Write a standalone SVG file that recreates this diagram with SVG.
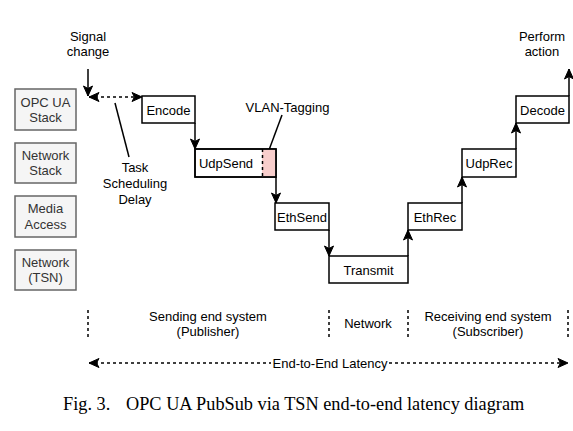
<svg xmlns="http://www.w3.org/2000/svg" width="573" height="431" viewBox="0 0 573 431">
<style>
  .t{font-family:"Liberation Sans",Arial,sans-serif;font-size:13px;fill:#000;text-anchor:middle}
  .lg{fill:#333}
  .box{fill:#fff;stroke:#000;stroke-width:1.5}
  .leg{fill:#f5f5f5;stroke:#666;stroke-width:1.5}
  .ln{fill:none;stroke:#000;stroke-width:1.5}
  .dash{fill:none;stroke:#000;stroke-width:1.5;stroke-dasharray:3 3}
  .cap{font-family:"Liberation Serif","Times New Roman",serif;font-size:18.3px;fill:#000}
</style>
<defs>
  <marker id="ah" markerUnits="userSpaceOnUse" markerWidth="12" markerHeight="12" viewBox="0 0 12 12" refX="11" refY="6" orient="auto-start-reverse">
    <path d="M1,1.5 L11,6 L1,10.5 L3.5,6 Z" fill="#000" stroke="#000" stroke-width="1"/>
  </marker>
</defs>
<rect width="573" height="431" fill="#fff"/>

<g id="legend-opcua"><rect class="leg" x="15" y="89" width="61" height="41"/><text class="t lg" x="45.5" y="107">OPC UA</text><text class="t lg" x="45.5" y="122">Stack</text></g>
<g id="legend-netstack"><rect class="leg" x="15" y="143" width="61" height="40"/><text class="t lg" x="45.5" y="160">Network</text><text class="t lg" x="45.5" y="175">Stack</text></g>
<g id="legend-media"><rect class="leg" x="15" y="196" width="61" height="41"/><text class="t lg" x="45.5" y="213">Media</text><text class="t lg" x="45.5" y="229">Access</text></g>
<g id="legend-tsn"><rect class="leg" x="15" y="250" width="61" height="40"/><text class="t lg" x="45.5" y="267">Network</text><text class="t lg" x="45.5" y="282">(TSN)</text></g>

<g id="connectors">
  <line class="ln" x1="88" y1="69" x2="88" y2="96" marker-end="url(#ah)"/>
  <line class="dash" x1="89" y1="97" x2="142" y2="97" marker-start="url(#ah)" marker-end="url(#ah)"/>
  <line class="ln" x1="115" y1="103" x2="129" y2="157" stroke-width="1"/>
  <line class="ln" x1="282" y1="115" x2="269" y2="150" stroke-width="1"/>
  <line class="ln" x1="195" y1="123" x2="195" y2="149" marker-end="url(#ah)"/>
  <line class="ln" x1="276" y1="177" x2="276" y2="203" marker-end="url(#ah)"/>
  <line class="ln" x1="329" y1="230" x2="329" y2="256" marker-end="url(#ah)"/>
  <line class="ln" x1="408" y1="256" x2="408" y2="230" marker-end="url(#ah)"/>
  <line class="ln" x1="462" y1="203" x2="462" y2="177" marker-end="url(#ah)"/>
  <line class="ln" x1="516" y1="149" x2="516" y2="123" marker-end="url(#ah)"/>
  <line class="ln" x1="569" y1="96" x2="569" y2="69" marker-end="url(#ah)"/>
  <line class="dash" x1="88" y1="310" x2="88" y2="337"/>
  <line class="dash" x1="329" y1="310" x2="329" y2="337"/>
  <line class="dash" x1="408" y1="310" x2="408" y2="337"/>
  <line class="dash" x1="568" y1="310" x2="568" y2="337"/>
  <line class="dash" x1="89" y1="363" x2="568" y2="363" marker-start="url(#ah)" marker-end="url(#ah)"/>
</g>

<g id="encode"><rect class="box" x="142" y="96" width="53" height="27"/><text class="t" x="168.5" y="114.5">Encode</text></g>
<g id="udpsend"><rect class="box" x="195" y="149" width="81" height="28"/><rect x="262" y="149.75" width="13.25" height="26.5" fill="#f8cecc"/><line class="dash" x1="262.5" y1="149" x2="262.5" y2="177" stroke="#333"/><rect x="195" y="149" width="81" height="28" fill="none" stroke="#000" stroke-width="1.5"/><text class="t" x="226" y="167.5">UdpSend</text></g>
<g id="ethsend"><rect class="box" x="275" y="203" width="54" height="27"/><text class="t" x="302" y="221.5">EthSend</text></g>
<g id="transmit"><rect class="box" x="329" y="256" width="79" height="27"/><text class="t" x="368.5" y="274.5">Transmit</text></g>
<g id="ethrec"><rect class="box" x="408" y="203" width="54" height="27"/><text class="t" x="435" y="221.5">EthRec</text></g>
<g id="udprec"><rect class="box" x="462" y="149" width="54" height="28"/><text class="t" x="489" y="167.5">UdpRec</text></g>
<g id="decode"><rect class="box" x="516" y="96" width="53" height="27"/><text class="t" x="542.5" y="114.5">Decode</text></g>

<g id="labels">
  <text class="t" x="88" y="41">Signal</text><text class="t" x="88" y="56">change</text>
  <text class="t" x="542" y="41">Perform</text><text class="t" x="542" y="56">action</text>
  <text class="t" x="135" y="172">Task</text><text class="t" x="135" y="188">Scheduling</text><text class="t" x="135" y="204">Delay</text>
  <text class="t" x="287.5" y="112">VLAN-Tagging</text>
  <text class="t" x="208" y="321">Sending end system</text><text class="t" x="208" y="336">(Publisher)</text>
  <text class="t" x="368" y="328">Network</text>
  <text class="t" x="488" y="321">Receiving end system</text><text class="t" x="488" y="336">(Subscriber)</text>
  <rect x="271" y="355" width="118" height="16" fill="#fff"/>
  <text class="t" x="330" y="368">End-to-End Latency</text>
</g>

<text class="cap" x="63" y="410">Fig. 3.<tspan x="126">OPC UA PubSub via TSN end-to-end latency diagram</tspan></text>
</svg>
